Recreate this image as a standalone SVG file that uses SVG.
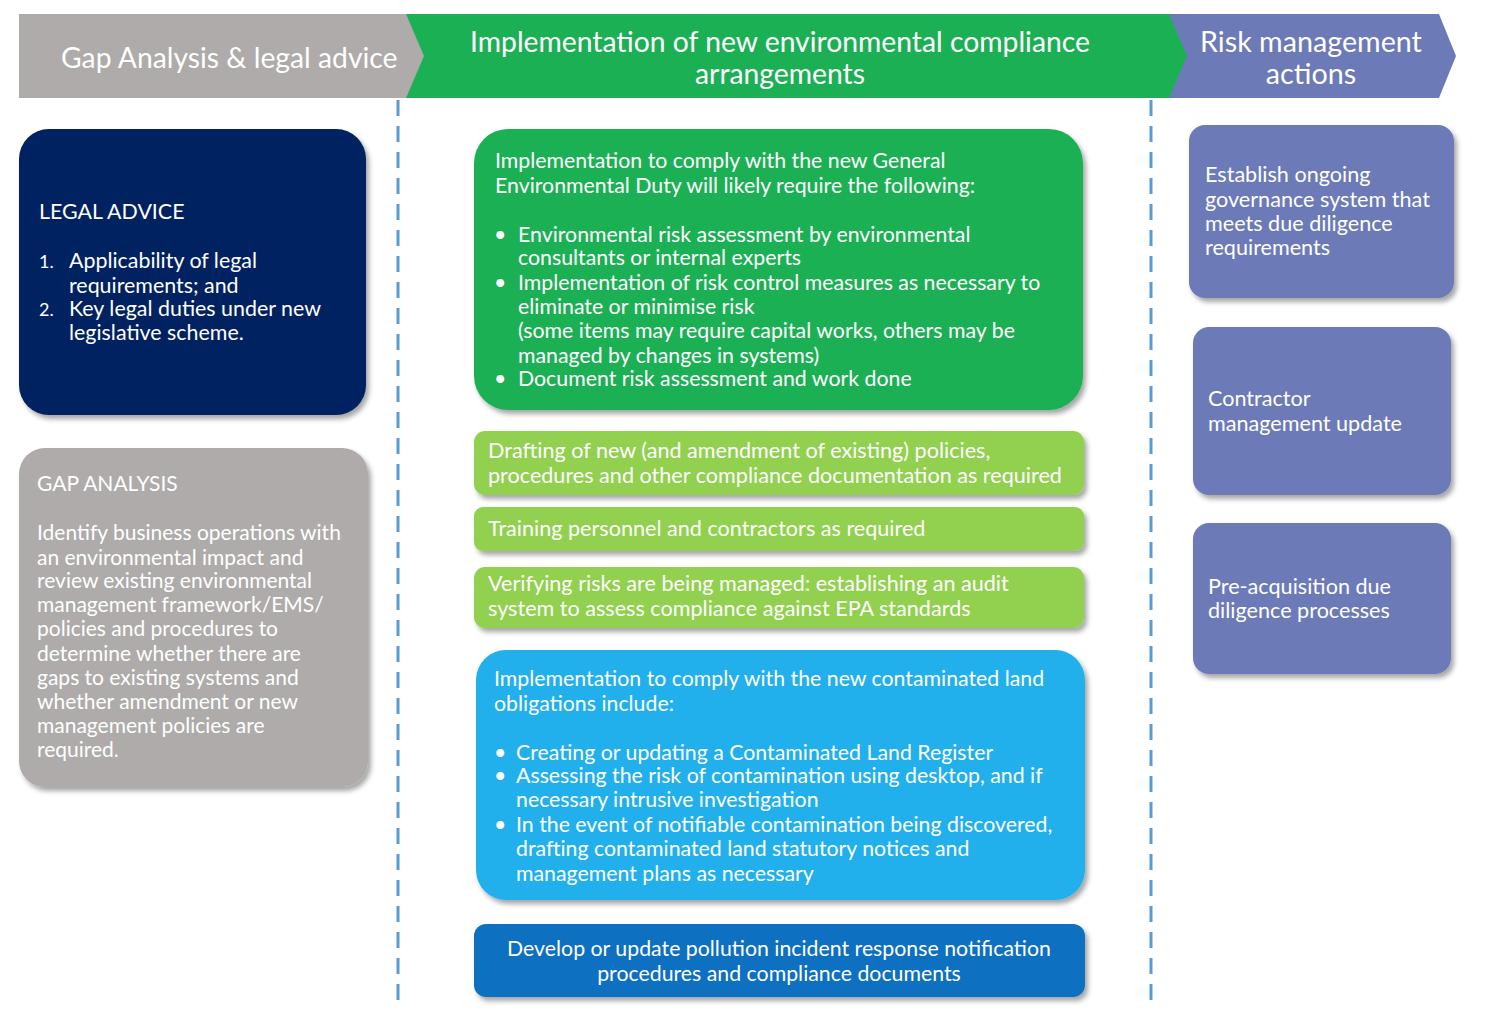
<svg xmlns="http://www.w3.org/2000/svg" width="1500" height="1021" viewBox="0 0 1500 1021">
<defs>
<filter id="sh" x="-10%" y="-10%" width="125%" height="130%">
<feDropShadow dx="3" dy="4" stdDeviation="2.5" flood-color="#000" flood-opacity="0.35"/>
</filter>
<style>
text{font-family:Lato,"Open Sans","Liberation Sans",sans-serif;fill:#fff;}
.h{font-size:28.3px;}
.t{font-size:21.3px;}
.lg{font-size:21.4px;}
.ga{font-size:21px;}
.lt{font-size:21.6px;}
.rt{font-size:21.6px;}
.c{text-anchor:middle;}
.dash{stroke:#5B9BD5;stroke-width:3;stroke-dasharray:16 10;fill:none;}
</style>
</defs>
<rect width="1500" height="1021" fill="#fff"/>

<g id="header-risk">
<polygon points="1160,14 1439,14 1456,56 1439,98 1160,98" fill="#6C7AB8"/>
<text class="h c" x="1311" y="52" style="font-size:28.7px">Risk management</text>
<text class="h c" x="1311" y="84" style="font-size:28.7px">actions</text>
</g>
<g id="header-impl">
<polygon points="400,14 1169,14 1187,56 1169,98 400,98" fill="#1CB055"/>
<text class="h c" x="780" y="52">Implementation of new environmental compliance</text>
<text class="h c" x="780" y="84">arrangements</text>
</g>
<g id="header-gap">
<polygon points="19,14 406,14 424,56 406,98 19,98" fill="#AEABAA"/>
<text class="h" x="61" y="68">Gap Analysis &amp; legal advice</text>
</g>

<g id="connectors">
<line class="dash" x1="398" y1="100" x2="398" y2="1003"/>
<line class="dash" x1="1151" y1="100" x2="1151" y2="1003"/>
</g>

<g id="legal-advice">
<rect x="19" y="129" width="347" height="286" rx="30" fill="#002060" filter="url(#sh)"/>
<text class="lg" x="39" y="219">LEGAL ADVICE</text>
<text x="39" y="268" style="font-size:18px">1.</text>
<text class="lg" x="69" y="268">Applicability of legal</text>
<text class="lg" x="69" y="293">requirements; and</text>
<text x="39" y="316" style="font-size:18px">2.</text>
<text class="lg" x="69" y="316">Key legal duties under new</text>
<text class="lg" x="69" y="340">legislative scheme.</text>
</g>

<g id="gap-analysis">
<rect x="19" y="448" width="349" height="339" rx="26" fill="#AEABAA" filter="url(#sh)"/>
<text class="ga" x="37" y="491">GAP ANALYSIS</text>
<text class="ga" x="37" y="540">Identify business operations with</text>
<text class="ga" x="37" y="565">an environmental impact and</text>
<text class="ga" x="37" y="588">review existing environmental</text>
<text class="ga" x="37" y="612">management framework/EMS/</text>
<text class="ga" x="37" y="636">policies and procedures to</text>
<text class="ga" x="37" y="661">determine whether there are</text>
<text class="ga" x="37" y="685">gaps to existing systems and</text>
<text class="ga" x="37" y="709">whether amendment or new</text>
<text class="ga" x="37" y="733">management policies are</text>
<text class="ga" x="37" y="757">required.</text>
</g>

<g id="general-duty">
<rect x="474" y="129" width="609" height="281" rx="34" fill="#1CB055" filter="url(#sh)"/>
<text class="t" x="495" y="168">Implementation to comply with the new General</text>
<text class="t" x="495" y="193">Environmental Duty will likely require the following:</text>
<text class="t" x="494" y="242">•</text>
<text class="t" x="518" y="242">Environmental risk assessment by environmental</text>
<text class="t" x="518" y="265">consultants or internal experts</text>
<text class="t" x="494" y="290">•</text>
<text class="t" x="518" y="290">Implementation of risk control measures as necessary to</text>
<text class="t" x="518" y="314">eliminate or minimise risk</text>
<text class="t" x="518" y="338">(some items may require capital works, others may be</text>
<text class="t" x="518" y="363">managed by changes in systems)</text>
<text class="t" x="494" y="386">•</text>
<text class="t" x="518" y="386">Document risk assessment and work done</text>
</g>

<g id="drafting">
<rect x="474" y="431" width="610" height="64" rx="11" fill="#92D050" filter="url(#sh)"/>
<text class="lt" x="488" y="458">Drafting of new (and amendment of existing) policies,</text>
<text class="lt" x="488" y="483">procedures and other compliance documentation as required</text>
</g>

<g id="training">
<rect x="474" y="507" width="610" height="44" rx="9" fill="#92D050" filter="url(#sh)"/>
<text class="lt" x="488" y="536">Training personnel and contractors as required</text>
</g>

<g id="verifying">
<rect x="474" y="567" width="610" height="61" rx="11" fill="#92D050" filter="url(#sh)"/>
<text class="lt" x="488" y="591">Verifying risks are being managed: establishing an audit</text>
<text class="lt" x="488" y="616">system to assess compliance against EPA standards</text>
</g>

<g id="contaminated-land">
<rect x="476" y="650" width="609" height="250" rx="30" fill="#20B0EC" filter="url(#sh)"/>
<text class="t" x="494" y="686">Implementation to comply with the new contaminated land</text>
<text class="t" x="494" y="711">obligations include:</text>
<text class="t" x="494" y="760">•</text>
<text class="t" x="516" y="760">Creating or updating a Contaminated Land Register</text>
<text class="t" x="494" y="783">•</text>
<text class="t" x="516" y="783">Assessing the risk of contamination using desktop, and if</text>
<text class="t" x="516" y="807">necessary intrusive investigation</text>
<text class="t" x="494" y="832">•</text>
<text class="t" x="516" y="832">In the event of notifiable contamination being discovered,</text>
<text class="t" x="516" y="856">drafting contaminated land statutory notices and</text>
<text class="t" x="516" y="881">management plans as necessary</text>
</g>

<g id="pollution-incident">
<rect x="474" y="924" width="611" height="73" rx="12" fill="#106FC0" filter="url(#sh)"/>
<text class="t c" x="779" y="956">Develop or update pollution incident response notification</text>
<text class="t c" x="779" y="981">procedures and compliance documents</text>
</g>

<g id="governance">
<rect x="1189" y="125" width="265" height="173" rx="16" fill="#6C7AB8" filter="url(#sh)"/>
<text class="rt" x="1205" y="182">Establish ongoing</text>
<text class="rt" x="1205" y="207">governance system that</text>
<text class="rt" x="1205" y="231">meets due diligence</text>
<text class="rt" x="1205" y="255">requirements</text>
</g>

<g id="contractor">
<rect x="1193" y="327" width="258" height="168" rx="16" fill="#6C7AB8" filter="url(#sh)"/>
<text class="rt" x="1208" y="406">Contractor</text>
<text class="rt" x="1208" y="431">management update</text>
</g>

<g id="pre-acquisition">
<rect x="1193" y="523" width="258" height="151" rx="16" fill="#6C7AB8" filter="url(#sh)"/>
<text class="rt" x="1208" y="594">Pre-acquisition due</text>
<text class="rt" x="1208" y="618">diligence processes</text>
</g>
</svg>
